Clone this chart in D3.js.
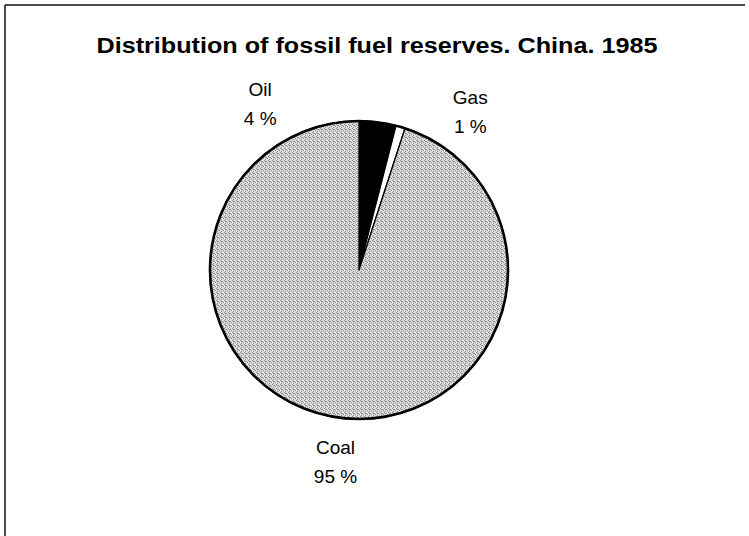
<!DOCTYPE html>
<html>
<head>
<meta charset="utf-8">
<script src="https://cdn.jsdelivr.net/npm/d3@7"></script>
<style>
  body { margin: 0; background: #fff; }
  svg { display: block; }
</style>
</head>
<body>
<div id="pie"></div>
<script>
// data
var fuels = ["Oil", "Gas", "Coal"]
var shares = [4, 1, 95]
var shareLabels = ["4 %", "1 %", "95 %"]
var title = "Distribution of fossil fuel reserves. China. 1985"

var width = 749,
    height = 536

var cx = 359, cy = 270, radius = 149

var svg = d3.select('#pie')
  .append("svg")
  .attr("width", width)
  .attr("height", height)

// stippled grey for coal
var defs = svg.append("defs")
var pat = defs.append("pattern")
  .attr("id", "stipple")
  .attr("width", 4).attr("height", 4)
  .attr("patternUnits", "userSpaceOnUse")
pat.append("rect").attr("width", 4).attr("height", 4).attr("fill", "#dedede")
var dots = [[0, 0], [2, 1], [1, 2], [3, 3], [2, 3]]
pat.selectAll("rect.dot")
  .data(dots)
  .enter()
  .append("rect")
  .attr("class", "dot")
  .attr("x", function(d) { return d[0] })
  .attr("y", function(d) { return d[1] })
  .attr("width", 1).attr("height", 1)
  .attr("fill", "#8a8a8a")

// frame (only top and left edges show in the scan)
svg.append("line")
  .attr("x1", 5).attr("y1", 5).attr("x2", 745).attr("y2", 5)
  .attr("stroke", "#111").attr("stroke-width", 1.5)
svg.append("line")
  .attr("x1", 5).attr("y1", 5).attr("x2", 5).attr("y2", height)
  .attr("stroke", "#111").attr("stroke-width", 1.5)

svg.append("text")
  .attr("x", 377)
  .attr("y", 53)
  .attr("text-anchor", "middle")
  .attr("textLength", 561)
  .attr("lengthAdjust", "spacingAndGlyphs")
  .style("font-family", "'Liberation Sans', Arial, sans-serif")
  .style("font-weight", "bold")
  .style("font-size", "22px")
  .text(title)

var rows = fuels.map(function(f, i) { return {name: f, value: shares[i], label: shareLabels[i]} })

var color = d3.scaleOrdinal()
  .domain(fuels)
  .range(["#000", "#fff", "url(#stipple)"])

var pie = d3.pie()
  .sort(null)
  .value(function(d) { return d.value })
var data_ready = pie(rows)

var arcGenerator = d3.arc()
  .innerRadius(0)
  .outerRadius(radius)

var g = svg.append("g")
  .attr("transform", "translate(" + cx + "," + cy + ")")

g.selectAll('path.slice')
  .data(data_ready)
  .enter()
  .append('path')
  .attr('class', 'slice')
  .attr('d', arcGenerator)
  .attr('fill', function(d) { return color(d.data.name) })
  .attr("stroke", "#000")
  .attr("stroke-width", 1.3)
  .attr("stroke-linejoin", "round")

// heavier outer rim
g.append("circle")
  .attr("r", radius)
  .attr("fill", "none")
  .attr("stroke", "#000")
  .attr("stroke-width", 2.6)

// labels pushed away from the thin slices (degrees)
var nudge = {Oil: -38, Gas: 19, Coal: -2}
var labelR = 193

var labels = g.selectAll('g.lab')
  .data(data_ready)
  .enter()
  .append('g')
  .attr('class', 'lab')
  .attr("transform", function(d) {
    var a = (d.startAngle + d.endAngle) / 2 + nudge[d.data.name] * Math.PI / 180
    return "translate(" + (labelR * Math.sin(a)) + "," + (-labelR * Math.cos(a)) + ")"
  })
  .style("font-family", "'Liberation Sans', Arial, sans-serif")
  .style("font-size", "19px")
  .style("text-anchor", "middle")

labels.append("text")
  .attr("y", -8)
  .text(function(d) { return d.data.name })
labels.append("text")
  .attr("y", 21)
  .text(function(d) { return d.data.label })
</script>
</body>
</html>
